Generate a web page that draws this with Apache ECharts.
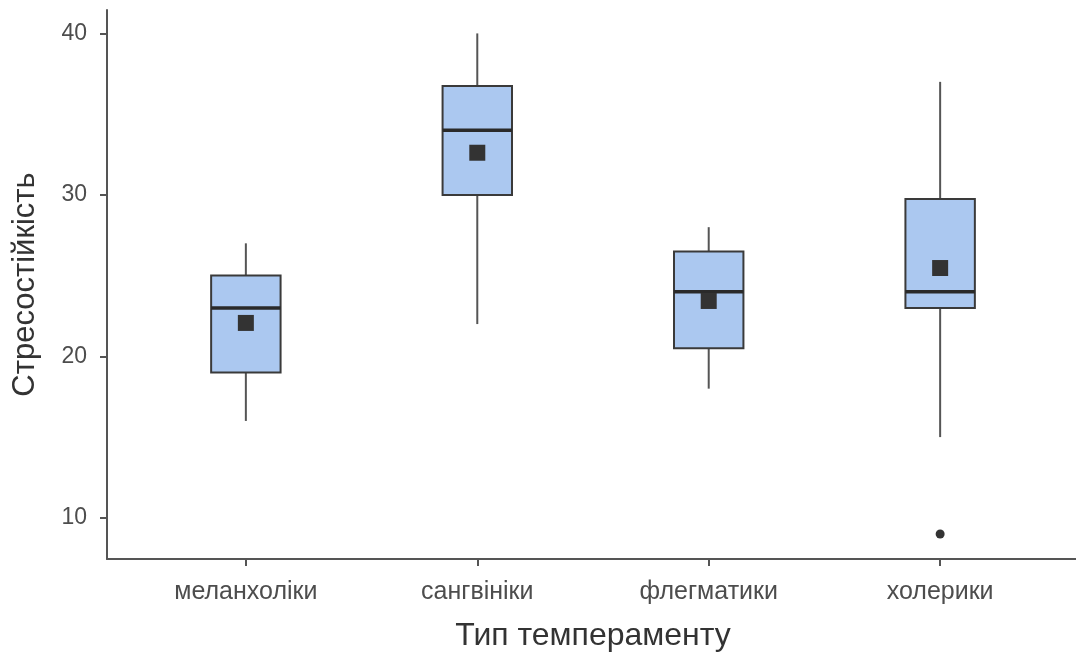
<!DOCTYPE html>
<html>
<head>
<meta charset="utf-8">
<script src="https://cdn.jsdelivr.net/npm/echarts@6/dist/echarts.min.js"></script>
<style>
  html, body { margin: 0; padding: 0; background: #ffffff; }
  #chart { width: 1076px; height: 655px; }
</style>
</head>
<body>
<div id="chart"></div>
<script>
// Temperament groups and their stress-resistance summaries
const categories = ['меланхоліки', 'сангвініки', 'флегматики', 'холерики'];
const lowerWhisker = [16, 22, 18, 15];
const q1 = [19, 30, 20.5, 23];
const median = [23, 34, 24, 24];
const q3 = [25, 36.75, 26.5, 29.75];
const upperWhisker = [27, 40, 28, 37];
const means = [22.07, 32.61, 23.43, 25.47];
const outlierGroups = ['холерики'];
const outlierValues = [9];
const yTicks = [10, 20, 30, 40];

const AXIS_FONT = 'Liberation Sans, Arial, sans-serif';

// Category positions on a numeric x scale (1..n)
const boxData = categories.map((c, i) => [i + 1, lowerWhisker[i], q1[i], median[i], q3[i], upperWhisker[i]]);
const meanData = categories.map((c, i) => [i + 1, means[i]]);
const outlierData = outlierGroups.map((g, i) => [categories.indexOf(g) + 1, outlierValues[i]]);

function renderBox(params, api) {
  const x = api.value(0);
  const lo = api.coord([x, api.value(1)]);
  const b1 = api.coord([x, api.value(2)]);
  const md = api.coord([x, api.value(3)]);
  const b3 = api.coord([x, api.value(4)]);
  const hi = api.coord([x, api.value(5)]);
  const w = api.size([0.3, 0])[0];
  const cx = lo[0];
  const left = cx - w / 2;
  return {
    type: 'group',
    children: [
      { type: 'line', shape: { x1: cx, y1: hi[1], x2: cx, y2: b3[1] },
        style: { stroke: '#555555', lineWidth: 2 } },
      { type: 'line', shape: { x1: cx, y1: b1[1], x2: cx, y2: lo[1] },
        style: { stroke: '#555555', lineWidth: 2 } },
      { type: 'rect', shape: { x: left, y: b3[1], width: w, height: b1[1] - b3[1] },
        style: { fill: '#abc8f0', stroke: '#3a3a3a', lineWidth: 2 } },
      { type: 'line', shape: { x1: left, y1: md[1], x2: left + w, y2: md[1] },
        style: { stroke: '#2a2a2a', lineWidth: 3.5 } }
    ]
  };
}

const chart = echarts.init(document.getElementById('chart'), null, { renderer: 'canvas' });
chart.setOption({
  animation: false,
  backgroundColor: '#ffffff',
  grid: { left: 107, right: -3, top: 10, bottom: 96, containLabel: false, outerBoundsMode: 'none' },
  xAxis: {
    type: 'value',
    min: 0.4,
    max: 4.6,
    name: 'Тип темпераменту',
    nameLocation: 'middle',
    nameGap: 61,
    nameTextStyle: { fontFamily: AXIS_FONT, fontSize: 32, color: '#333333' },
    splitLine: { show: false },
    axisLine: { show: true, lineStyle: { color: '#555555', width: 2 } },
    axisTick: { show: true, customValues: [1, 2, 3, 4], length: 7, lineStyle: { color: '#555555', width: 2 } },
    axisLabel: {
      customValues: [1, 2, 3, 4],
      formatter: v => categories[Math.round(v) - 1] || '',
      fontFamily: AXIS_FONT, fontSize: 25, color: '#4d4d4d', margin: 21
    }
  },
  yAxis: {
    type: 'value',
    min: 7.45,
    max: 41.45,
    name: 'Стресостійкість',
    nameLocation: 'middle',
    nameGap: 66,
    nameTextStyle: { fontFamily: AXIS_FONT, fontSize: 31, color: '#333333' },
    splitLine: { show: false },
    axisLine: { show: true, lineStyle: { color: '#555555', width: 2 } },
    axisTick: { show: true, customValues: yTicks, length: 7, lineStyle: { color: '#555555', width: 2 } },
    axisLabel: {
      customValues: yTicks,
      fontFamily: AXIS_FONT, fontSize: 23, color: '#4d4d4d', margin: 20
    }
  },
  series: [
    {
      type: 'custom',
      renderItem: renderBox,
      data: boxData,
      encode: { x: 0, y: [1, 2, 3, 4, 5] },
      z: 2
    },
    {
      type: 'scatter',
      data: meanData,
      symbol: 'rect',
      symbolSize: 16,
      itemStyle: { color: '#333333', opacity: 1 },
      z: 3
    },
    {
      type: 'scatter',
      data: outlierData,
      symbol: 'circle',
      symbolSize: 9,
      itemStyle: { color: '#333333', opacity: 1 },
      z: 3
    }
  ]
});
</script>
</body>
</html>
